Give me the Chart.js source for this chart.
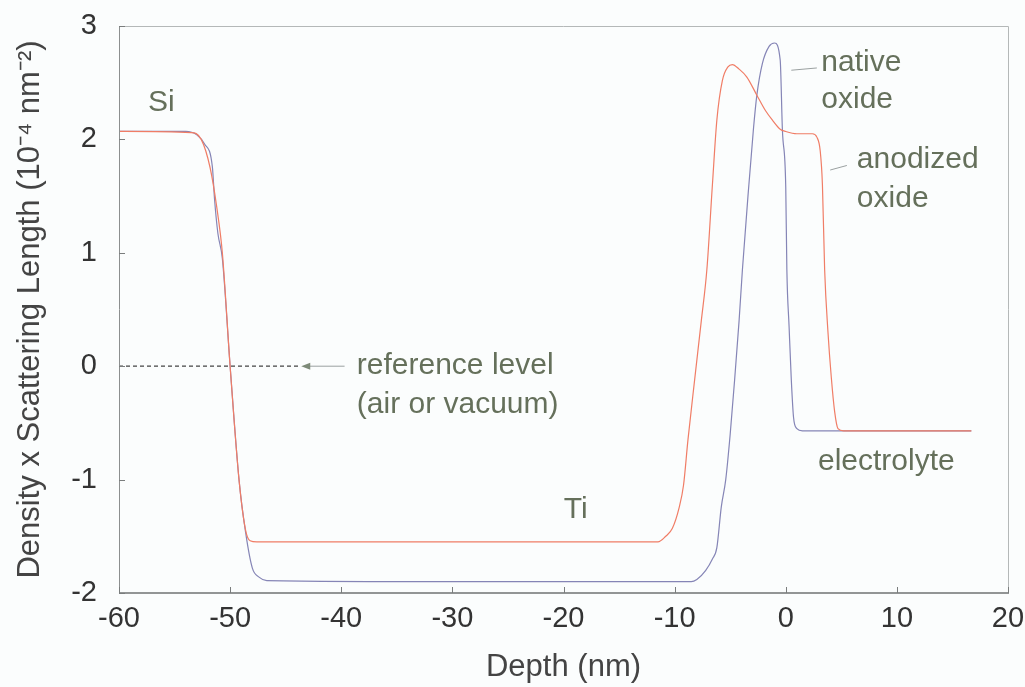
<!DOCTYPE html>
<html><head><meta charset="utf-8">
<script src="https://cdn.jsdelivr.net/npm/chart.js@4"></script>
<style>html,body{margin:0;padding:0;background:#fbfdfd;}#wrap{width:1025px;height:687px;position:relative;}</style>
</head><body><div id="wrap"><canvas id="c"></canvas></div>
<script>
// ---- data (depth in nm, density x scattering length in 1e-4 nm^-2) ----
const anodizedX = [-60, -53.5, -52.6, -51.8, -51.2, -50.7, -50.0, -49.2, -48.6, -48.2, -47.6, -30, -11.5, -10.8, -10.2, -9.6, -9.2, -8.8, -8.2, -7.6, -7.1, -6.6, -6.2, -5.7, -5.2, -4.8, -4.2, -3.5, -2.6, -1.8, -1.2, -0.5, 0, 1, 2.4, 2.8, 3.1, 3.3, 3.5, 3.8, 4.1, 4.4, 4.7, 5.2, 16.7];
const anodizedY = [2.07, 2.06, 2.0, 1.75, 1.4, 1.0, 0.0, -1.0, -1.45, -1.54, -1.55, -1.55, -1.55, -1.5, -1.43, -1.25, -1.05, -0.65, -0.12, 0.4, 0.85, 1.6, 2.17, 2.52, 2.64, 2.66, 2.62, 2.55, 2.39, 2.25, 2.17, 2.09, 2.07, 2.05, 2.05, 2.02, 1.9, 1.6, 0.85, 0.3, -0.1, -0.4, -0.55, -0.57, -0.57];
const nativeX = [-60, -54, -53, -52.3, -51.6, -51.4, -51.1, -50.7, -50.0, -49.2, -48.6, -48.0, -47.4, -46.7, -30, -8.5, -8.0, -7.2, -6.6, -6.2, -5.8, -5.4, -5.0, -4.6, -4.2, -3.9, -3.4, -2.9, -2.6, -2.1, -1.5, -1.0, -0.5, -0.3, 0, 0.1, 0.3, 0.5, 0.7, 1.0, 1.5, 16.7];
const nativeY = [2.07, 2.07, 2.04, 1.96, 1.76, 1.47, 1.17, 0.95, 0.0, -1.0, -1.47, -1.78, -1.86, -1.89, -1.9, -1.9, -1.88, -1.8, -1.7, -1.6, -1.24, -1.0, -0.6, -0.12, 0.4, 0.85, 1.5, 2.1, 2.39, 2.67, 2.82, 2.85, 2.7, 2.08, 1.58, 0.85, 0.35, -0.12, -0.45, -0.55, -0.57, -0.57];
const refLevelX = [-60, -43.8];
const refLevelY = [0, 0];
const xTicks = [-60, -50, -40, -30, -20, -10, 0, 10, 20];
const yTicks = [-2, -1, 0, 1, 2, 3];
const xTitle = 'Depth (nm)';
const yTitle = 'Density x Scattering Length (10\u207B\u2074 nm\u207B\u00B2)';

const FONT = '"Liberation Sans", Arial, Helvetica, sans-serif';
const labelColor = '#65705b';

const pts = (xs, ys) => xs.map((x, i) => ({x, y: ys[i]}));

const overlay = {
  id: 'overlay',
  afterDatasetsDraw(chart) {
    const {ctx, chartArea: a, scales: {x, y}} = chart;
    const X = v => x.getPixelForValue(v), Y = v => y.getPixelForValue(v);
    ctx.save();
    // frame
    ctx.lineWidth = 1;
    ctx.strokeStyle = '#b4b8b8';
    ctx.beginPath();
    ctx.moveTo(a.left, a.top + 0.5); ctx.lineTo(a.right + 0.5, a.top + 0.5); ctx.lineTo(a.right + 0.5, a.bottom);
    ctx.stroke();
    ctx.strokeStyle = '#8c8f8f';
    ctx.beginPath(); ctx.moveTo(a.left + 0.5, a.top); ctx.lineTo(a.left + 0.5, a.bottom); ctx.stroke();
    ctx.strokeStyle = '#6f7272';
    ctx.lineWidth = 1.5;
    ctx.beginPath(); ctx.moveTo(a.left, a.bottom); ctx.lineTo(a.right + 1, a.bottom); ctx.stroke();
    // inner ticks
    ctx.lineWidth = 1;
    ctx.strokeStyle = '#7a7d7d';
    xTicks.forEach(t => { const px = Math.round(X(t)) + 0.5; ctx.beginPath(); ctx.moveTo(px, a.bottom); ctx.lineTo(px, a.bottom - 6); ctx.stroke(); });
    yTicks.forEach(t => { const py = Math.round(Y(t)) + 0.5; ctx.beginPath(); ctx.moveTo(a.left, py); ctx.lineTo(a.left + 6, py); ctx.stroke(); });
    // leader lines
    ctx.strokeStyle = '#9aa0a0';
    ctx.lineWidth = 1;
    ctx.beginPath(); ctx.moveTo(X(0.5), Y(2.61)); ctx.lineTo(X(2.8), Y(2.63)); ctx.stroke();
    ctx.beginPath(); ctx.moveTo(X(4.0), Y(1.73)); ctx.lineTo(X(5.5), Y(1.77)); ctx.stroke();
    ctx.beginPath(); ctx.moveTo(X(-43.0), Y(0)); ctx.lineTo(X(-39.7), Y(0)); ctx.stroke();
    // arrow head
    ctx.fillStyle = '#7d8a78';
    const ax = X(-43.6), ay = Y(0);
    ctx.beginPath(); ctx.moveTo(ax, ay); ctx.lineTo(ax + 9, ay - 3.5); ctx.lineTo(ax + 9, ay + 3.5); ctx.closePath(); ctx.fill();
    // labels
    ctx.fillStyle = labelColor;
    ctx.font = '30px ' + FONT;
    ctx.textBaseline = 'middle';
    ctx.textAlign = 'left';
    const put = (t, dx, dy) => ctx.fillText(t, X(dx), Y(dy));
    put('Si', -57.4, 2.32);
    put('native', 3.2, 2.68);
    put('oxide', 3.2, 2.35);
    put('anodized', 6.4, 1.82);
    put('oxide', 6.4, 1.48);
    put('reference level', -38.6, 0.0);
    put('(air or vacuum)', -38.6, -0.34);
    put('electrolyte', 2.9, -0.84);
    ctx.textAlign = 'center';
    put('Ti', -18.9, -1.27);
    ctx.restore();
  }
};

new Chart(document.getElementById('c'), {
  type: 'scatter',
  data: {
    datasets: [
      { label: 'reference', data: pts(refLevelX, refLevelY), showLine: true, borderColor: '#444', borderWidth: 1.2, borderDash: [4, 3], pointRadius: 0, tension: 0 },
      { label: 'anodized oxide', data: pts(anodizedX, anodizedY), showLine: true, borderColor: '#f07d66', borderWidth: 1.2, pointRadius: 0, tension: 0.25, cubicInterpolationMode: 'monotone' },
      { label: 'native oxide', data: pts(nativeX, nativeY), showLine: true, borderColor: '#8585b6', borderWidth: 1.2, pointRadius: 0, tension: 0.25, cubicInterpolationMode: 'monotone' }
    ]
  },
  options: {
    responsive: true, maintainAspectRatio: false, animation: false,
    layout: { padding: { top: 26, right: 17, left: 0, bottom: 0 } },
    plugins: { legend: { display: false }, tooltip: { enabled: false } },
    scales: {
      x: {
        type: 'linear', min: -60, max: 20,
        afterBuildTicks: s => { s.ticks = xTicks.map(v => ({value: v})); },
        afterFit: s => { s.height = 94; s.paddingLeft = 0; s.paddingRight = 0; },
        grid: { display: false, drawTicks: false },
        border: { display: false },
        ticks: { font: { size: 29, family: FONT }, color: '#333', padding: 9, maxRotation: 0, autoSkip: false },
        title: { display: true, text: xTitle, font: { size: 31, family: FONT }, color: '#444', padding: { top: 0, bottom: 1 } }
      },
      y: {
        type: 'linear', min: -2, max: 3,
        afterBuildTicks: s => { s.ticks = yTicks.map(v => ({value: v})); },
        afterFit: s => { s.width = 119; s.paddingTop = 0; s.paddingBottom = 0; },
        grid: { display: false, drawTicks: false },
        border: { display: false },
        ticks: { font: { size: 29, family: FONT }, color: '#333', padding: 22, autoSkip: false },
        title: { display: true, text: yTitle, font: { size: 31, family: FONT }, color: '#444', padding: { top: 12, bottom: 0 } }
      }
    }
  },
  plugins: [overlay]
});
</script></body></html>
